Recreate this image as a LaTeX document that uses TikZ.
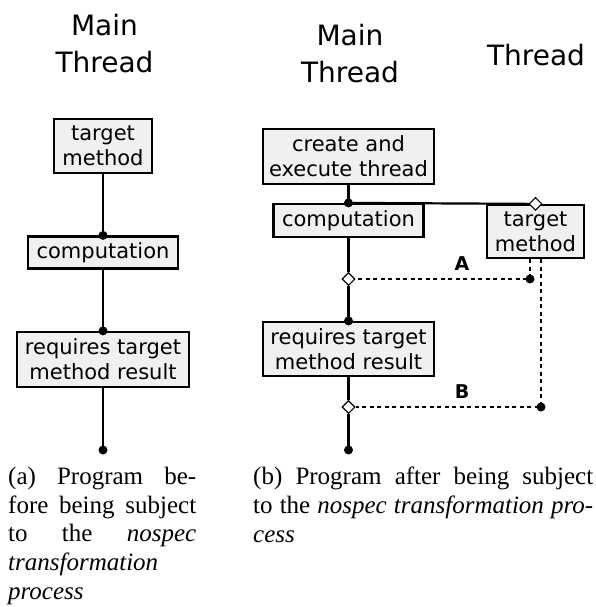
\documentclass[tikz,border=0pt]{standalone}
\usepackage{fontspec}
\newfontfamily\dv{DejaVu Sans}
\newfontfamily\capfont{Liberation Serif}
\usetikzlibrary{shapes.geometric}
\definecolor{boxfill}{RGB}{240,240,240}
\tikzset{
 box/.style={draw, line width=2.2pt, fill=boxfill, font=\dv\fontsize{21}{25}\selectfont, align=center, inner sep=0pt},
 title/.style={font=\dv\fontsize{28}{37}\selectfont, align=center, inner sep=0pt},
 solidln/.style={line width=2.2pt},
 dotln/.style={line width=2.2pt, dash pattern=on 4pt off 3.5pt},
 dia/.style={diamond, draw, fill=white, line width=1.1pt, inner sep=0pt, minimum width=13pt, minimum height=13pt},
 lab/.style={font=\dv\bfseries\fontsize{19}{22}\selectfont, inner sep=0pt},
 captext/.style={font=\capfont\fontsize{25}{28.7}\selectfont, align=left, inner sep=0pt, anchor=north west},
}
\begin{document}
\begin{tikzpicture}[x=1pt,y=-1pt]
\useasboundingbox (0,0) rectangle (596,607);
% titles
\node[title, anchor=north] (t1) at (104.5,14.5) {Main\\Thread};
\node[title, anchor=north] (t2) at (350,24.5) {Main\\Thread};
\node[title, anchor=north] (t3) at (536,44.5) {Thread};
% left panel
\node[box, minimum width=98pt, minimum height=54pt] (tm1) at (103,146) {target\\method};
\node[box, minimum width=150pt, minimum height=32pt] (comp1) at (103,252.5) {computation};
\node[box, minimum width=172pt, minimum height=55pt] (req1) at (103,359.5) {requires target\\method result};
\coordinate (end1) at (103,450);
\draw[solidln] (tm1.south) -- (comp1.north);
\draw[solidln] (comp1.south) -- (req1.north);
\draw[solidln] (req1.south) -- (end1);
\fill (comp1.north) circle (4.5);
\fill (req1.north) circle (4.5);
\fill (end1) circle (4.5);
% right panel
\node[box, minimum width=171pt, minimum height=55pt] (create) at (348.5,156.5) {create and\\execute thread};
\node[box, minimum width=150pt, minimum height=33pt] (comp2) at (348.5,220.5) {computation};
\node[box, minimum width=97pt, minimum height=53pt] (tm2) at (535.5,231.5) {target\\method};
\node[box, minimum width=171pt, minimum height=54pt] (req2) at (348.5,349) {requires target\\method result};
\node[dia] (dA) at (348.5,279) {};
\node[dia] (dB) at (348.5,407) {};
\coordinate (pA) at (530,279);
\coordinate (pB) at (541,407);
\coordinate (end2) at (348.5,450);
\draw[solidln] (create.south) -- (comp2.north);
\draw[solidln] (comp2.north) -- (tm2.north);
\node[dia] (dT) at (tm2.north) {};
\draw[solidln] (comp2.south) -- (dA);
\draw[solidln] (dA) -- (req2.north);
\draw[solidln] (req2.south) -- (dB);
\draw[solidln] (dB) -- (end2);
\draw[dotln] (tm2.south -| pA) -- (pA) -- (dA);
\draw[dotln] (tm2.south -| pB) -- (pB) -- (dB);
\fill (comp2.north) circle (4.5);
\fill (req2.north) circle (4.5);
\fill (pA) circle (4.5);
\fill (pB) circle (4.5);
\fill (end2) circle (4.5);
\node[lab] (lA) at (462,264) {A};
\node[lab] (lB) at (462,392) {B};
% captions
\node[captext] (capa) at (8,467) {\makebox[188pt][s]{(a) Program be-}\\\makebox[188pt][s]{fore being subject}\\\makebox[188pt][s]{to the \textit{nospec}}\\\textit{transformation}\\\textit{process}};
\node[captext] (capb) at (253,467) {\makebox[340pt][s]{(b) Program after being subject}\\\makebox[340pt][s]{to the \textit{nospec transformation pro-}}\\\textit{cess}};
\end{tikzpicture}
\end{document}
